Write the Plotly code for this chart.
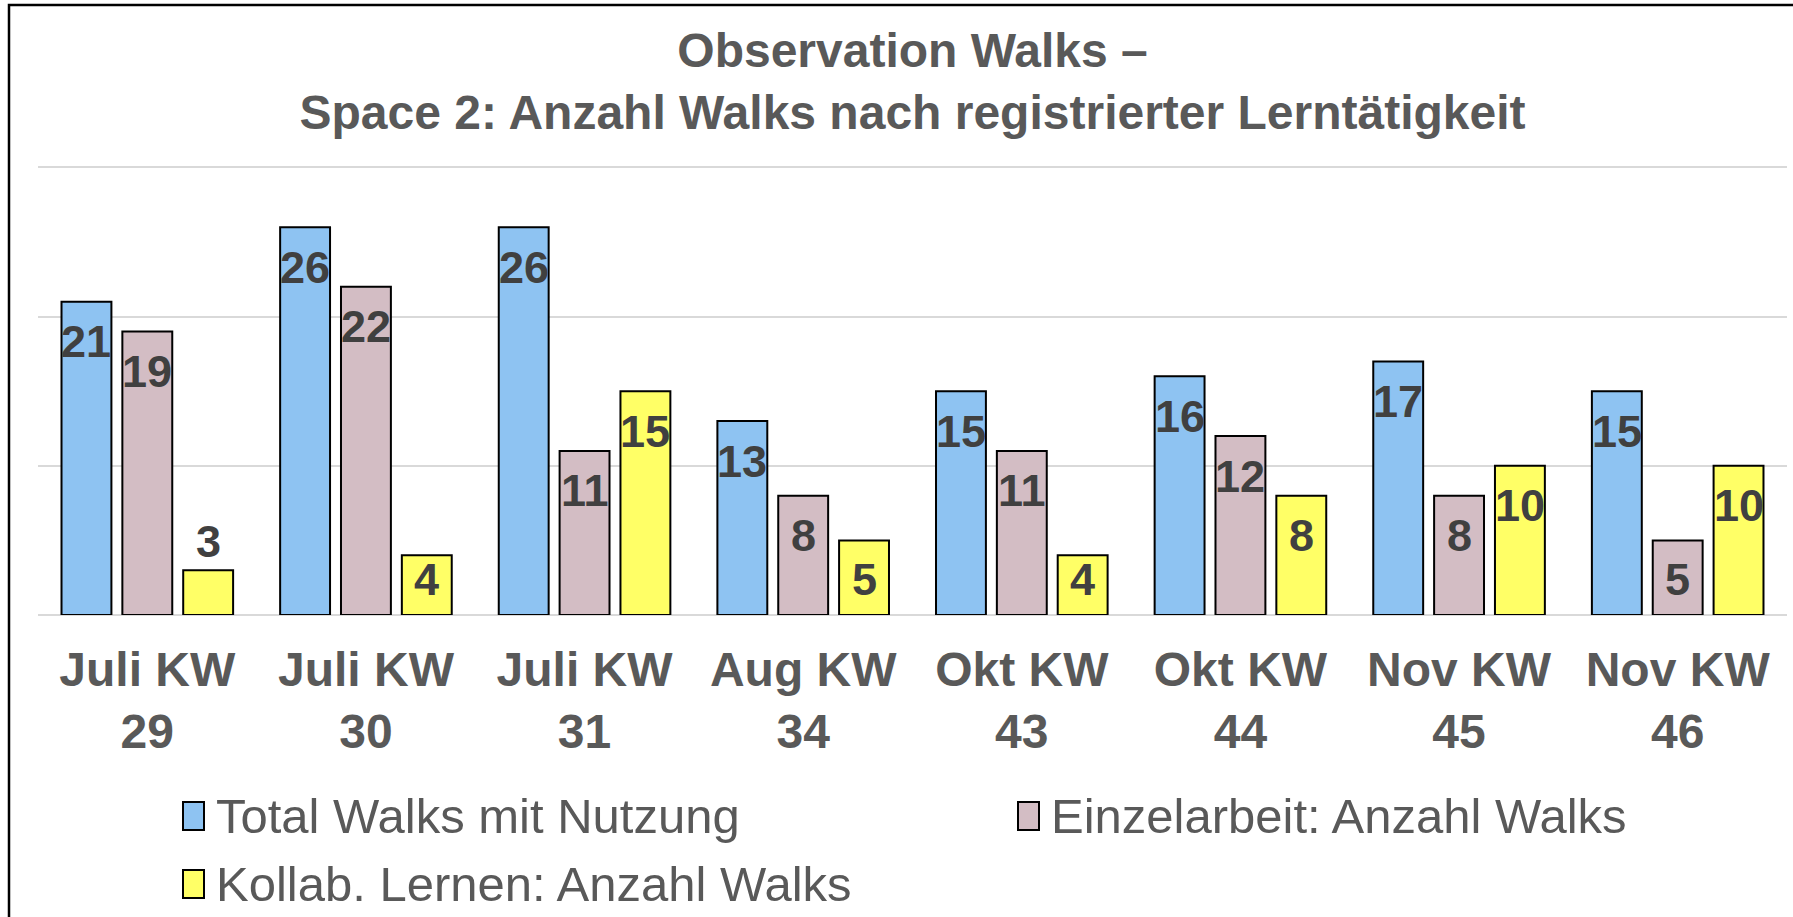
import plotly.graph_objects as go

categories = ["Juli KW<br>29", "Juli KW<br>30", "Juli KW<br>31", "Aug KW<br>34",
              "Okt KW<br>43", "Okt KW<br>44", "Nov KW<br>45", "Nov KW<br>46"]
series_names = ["Total Walks mit Nutzung", "Einzelarbeit: Anzahl Walks", "Kollab. Lernen: Anzahl Walks"]
total_walks = [21, 26, 26, 13, 15, 16, 17, 15]
einzel_walks = [19, 22, 11, 8, 11, 12, 8, 5]
kollab_walks = [3, 4, 15, 5, 4, 8, 10, 10]
colors = ["#8EC3F2", "#D3BDC4", "#FFFF66"]

W, H = 1793, 917
Y_TOP = 30.1
ML, MR, MB = 38, 6, 302
MT = 166
px_per_unit = (H - MT - MB) / Y_TOP
FONT = "Liberation Sans, Arial, sans-serif"

fig = go.Figure()
all_series = [total_walks, einzel_walks, kollab_walks]
for name, vals, col in zip(series_names, all_series, colors):
    fig.add_trace(go.Bar(
        x=categories, y=vals, name=name,
        marker=dict(color=col, line=dict(color="#000000", width=2)),
        showlegend=False, hoverinfo="x+y+name",
    ))

# data labels
cat_w = (W - ML - MR) / len(categories)
bargap = 0.165
slot = cat_w * (1 - bargap) / 3
annotations = []
for j, vals in enumerate(all_series):
    for cat, v in zip(categories, vals):
        if v * px_per_unit < 50:
            y = v + 29 / px_per_unit
        else:
            y = max(v - 40 / px_per_unit, 36 / px_per_unit)
        annotations.append(dict(
            x=cat, y=y, xref="x", yref="y", text=str(v), showarrow=False,
            xshift=(j - 1) * slot, yanchor="middle", xanchor="center",
            font=dict(family=FONT, size=45, color="#404040", weight="bold"),
        ))

# manual legend
def px_to_paper_x(px):
    return (px - ML) / (W - ML - MR)

def px_to_paper_y(py):
    return (H - MB - py) / (H - MT - MB)

legend_items = [(183, 816), (1018, 816), (183, 884)]
shapes = []
for (lx, ly), name, col in zip(legend_items, series_names, colors):
    shapes.append(dict(
        type="rect", xref="paper", yref="paper",
        x0=px_to_paper_x(lx), x1=px_to_paper_x(lx + 21),
        y0=px_to_paper_y(ly - 14), y1=px_to_paper_y(ly + 14),
        fillcolor=col, line=dict(color="#000000", width=2),
    ))
    annotations.append(dict(
        x=px_to_paper_x(lx + 31), y=px_to_paper_y(ly), xref="paper", yref="paper",
        text=name, showarrow=False, xanchor="left", yanchor="middle",
        font=dict(family=FONT, size=49, color="#595959"),
    ))

# outer border (cropped frame)
shapes.append(dict(
    type="rect", xref="paper", yref="paper",
    x0=px_to_paper_x(9), x1=px_to_paper_x(W + 20),
    y0=px_to_paper_y(H + 20), y1=px_to_paper_y(5),
    line=dict(color="#000000", width=2.5), fillcolor="rgba(0,0,0,0)", layer="above",
))

fig.update_layout(
    width=W, height=H,
    margin=dict(l=ML, r=MR, t=MT, b=MB),
    paper_bgcolor="white", plot_bgcolor="white",
    barmode="group", bargap=bargap, bargroupgap=0.18,
    title=dict(
        text="Observation Walks –<br>Space 2: Anzahl Walks nach registrierter Lerntätigkeit",
        x=0.5, xref="paper", xanchor="center",
        y=1 - 67 / H, yref="container", yanchor="middle",
        font=dict(family=FONT, size=48, color="#595959", weight="bold"),
    ),
    xaxis=dict(
        showgrid=False, showline=False, zeroline=False, ticks="", automargin=False,
        tickfont=dict(family=FONT, size=48, color="#595959", weight="bold"),
        ticklabelstandoff=22,
    ),
    yaxis=dict(
        range=[0, Y_TOP], tickvals=[0, 10, 20, 30], showticklabels=False, ticks="",
        automargin=False,
        showgrid=True, gridcolor="#D9D9D9", gridwidth=2,
        zeroline=True, zerolinecolor="#D9D9D9", zerolinewidth=2,
    ),
    annotations=annotations, shapes=shapes,
)

fig.write_html("out.html", config={"displayModeBar": False},
               post_script="document.body.style.margin='0';")
